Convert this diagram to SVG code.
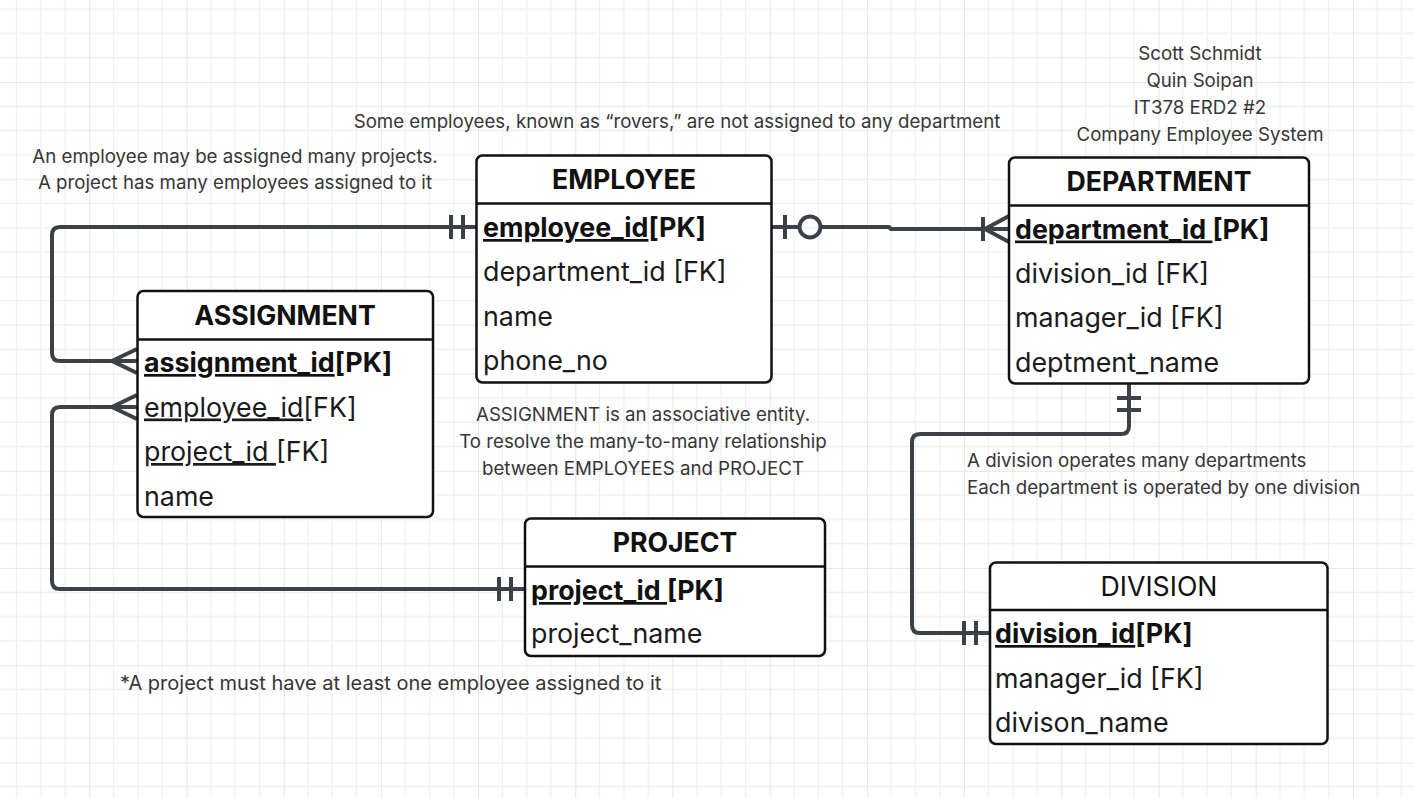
<svg xmlns="http://www.w3.org/2000/svg" width="1414" height="798" viewBox="0 0 1414 798">
<defs>
<pattern id="grid" patternUnits="userSpaceOnUse" x="-7.9" y="-15.2" width="97.2" height="97.2">
<path d="M24.3 0V97.2M48.6 0V97.2M72.9 0V97.2M0 24.3H97.2M0 48.6H97.2M0 72.9H97.2" stroke="#efefef" stroke-width="1.3" fill="none"/>
<path d="M0 0V97.2M0 0H97.2" stroke="#e0e0e0" stroke-width="1.6" fill="none"/>
</pattern>
</defs>
<style>
.box{fill:#fff;stroke:#111;stroke-width:2.5}
.sep{stroke:#111;stroke-width:2.5}
.title{font-family:Inter,"Noto Sans",sans-serif;font-size:26.7px;font-weight:700;fill:#111;text-anchor:middle}
.title.light{font-weight:400}
.row{font-family:Inter,"Noto Sans",sans-serif;font-size:26.8px;fill:#1a1a1a}
.pk{font-weight:700;fill:#111}
.u{text-decoration:underline}
.note{font-family:Inter,"Noto Sans",sans-serif;font-size:18.7px;fill:#363636}
.big{font-size:20px}
.mid{text-anchor:middle}
.conn{fill:none;stroke:#3b4149;stroke-width:4;stroke-linecap:butt;stroke-linejoin:round}
.mark{fill:none;stroke:#3b4149;stroke-width:4}
</style>
<rect width="1414" height="798" fill="#fff"/>
<rect width="1414" height="798" fill="url(#grid)"/>

<g id="connectors">
<!-- EMPLOYEE to ASSIGNMENT -->
<path class="conn" d="M476 227H60Q52 227 52 235V353Q52 361 60 361H137"/>
<path class="mark" d="M451 215V239M463 215V239"/>
<path class="mark" d="M137 349L112 361L137 373"/>
<!-- PROJECT to ASSIGNMENT -->
<path class="conn" d="M525 589H60Q52 589 52 581V415Q52 407 60 407H137"/>
<path class="mark" d="M499 577V601M511 577V601"/>
<path class="mark" d="M137 395L112 407L137 419"/>
<!-- EMPLOYEE to DEPARTMENT -->
<path class="conn" d="M772 227H799M821 227H889L891 229H1009"/>
<path class="mark" d="M785 215V239"/>
<circle class="mark" cx="810" cy="227" r="10.5"/>
<path class="mark" d="M983 217V241"/>
<path class="mark" d="M1009 216L985 229L1009 242"/>
<!-- DEPARTMENT to DIVISION -->
<path class="conn" d="M1129 384V426Q1129 434 1121 434H920Q912 434 912 442V625Q912 633 920 633H990"/>
<path class="mark" d="M1117 398H1141M1117 410H1141"/>
<path class="mark" d="M964 621V645M976 621V645"/>
</g>

<g id="employee">
<rect class="box" x="476.5" y="155.5" width="295" height="227" rx="6"/>
<line class="sep" x1="476.5" y1="203.5" x2="771.5" y2="203.5"/>
<text class="title" x="624" y="189">EMPLOYEE</text>
<text class="row pk" x="483" y="237"><tspan class="u">employee_id</tspan>[PK]</text>
<text class="row" x="483" y="281">department_id [FK]</text>
<text class="row" x="483" y="326">name</text>
<text class="row" x="483" y="370">phone_no</text>
</g>

<g id="assignment">
<rect class="box" x="137.5" y="291" width="295.5" height="226" rx="6"/>
<line class="sep" x1="137.5" y1="339.5" x2="433" y2="339.5"/>
<text class="title" x="285" y="325">ASSIGNMENT</text>
<text class="row pk" x="144" y="372"><tspan class="u">assignment_id</tspan>[PK]</text>
<text class="row" x="144" y="416.5"><tspan class="u">employee_id</tspan>[FK]</text>
<text class="row" x="144" y="461"><tspan class="u">project_id </tspan>[FK]</text>
<text class="row" x="144" y="505.5">name</text>
</g>

<g id="department">
<rect class="box" x="1009" y="157.5" width="300" height="226" rx="6"/>
<line class="sep" x1="1009" y1="205.5" x2="1309" y2="205.5"/>
<text class="title" x="1159" y="191">DEPARTMENT</text>
<text class="row pk" x="1015" y="238.5"><tspan class="u">department_id </tspan>[PK]</text>
<text class="row" x="1015" y="283">division_id [FK]</text>
<text class="row" x="1015" y="327">manager_id [FK]</text>
<text class="row" x="1015" y="372">deptment_name</text>
</g>

<g id="project">
<rect class="box" x="525" y="518.5" width="300" height="137.5" rx="6"/>
<line class="sep" x1="525" y1="566.5" x2="825" y2="566.5"/>
<text class="title" x="675" y="552">PROJECT</text>
<text class="row pk" x="531" y="600"><tspan class="u">project_id </tspan>[PK]</text>
<text class="row" x="531" y="643">project_name</text>
</g>

<g id="division">
<rect class="box" x="990" y="562.5" width="337.5" height="181.5" rx="6"/>
<line class="sep" x1="990" y1="610" x2="1327.5" y2="610"/>
<text class="title light" x="1159" y="596">DIVISION</text>
<text class="row pk" x="995" y="643"><tspan class="u">division_id</tspan>[PK]</text>
<text class="row" x="995" y="687.5">manager_id [FK]</text>
<text class="row" x="995" y="731.5">divison_name</text>
</g>

<g id="notes">
<text class="note mid" x="1200" y="60">Scott Schmidt</text>
<text class="note mid" x="1200" y="87">Quin Soipan</text>
<text class="note mid" x="1200" y="114">IT378 ERD2 #2</text>
<text class="note mid" x="1200" y="141">Company Employee System</text>
<text class="note mid" x="677" y="128">Some employees, known as “rovers,” are not assigned to any department</text>
<text class="note mid" x="235" y="163">An employee may be assigned many projects.</text>
<text class="note mid" x="235" y="189">A project has many employees assigned to it</text>
<text class="note mid" x="643" y="421">ASSIGNMENT is an associative entity.</text>
<text class="note mid" x="643" y="448">To resolve the many-to-many relationship</text>
<text class="note mid" x="643" y="475">between EMPLOYEES and PROJECT</text>
<text class="note" x="967" y="467">A division operates many departments</text>
<text class="note" x="967" y="494">Each department is operated by one division</text>
<text class="note big" x="120" y="690">*A project must have at least one employee assigned to it</text>
</g>
</svg>
